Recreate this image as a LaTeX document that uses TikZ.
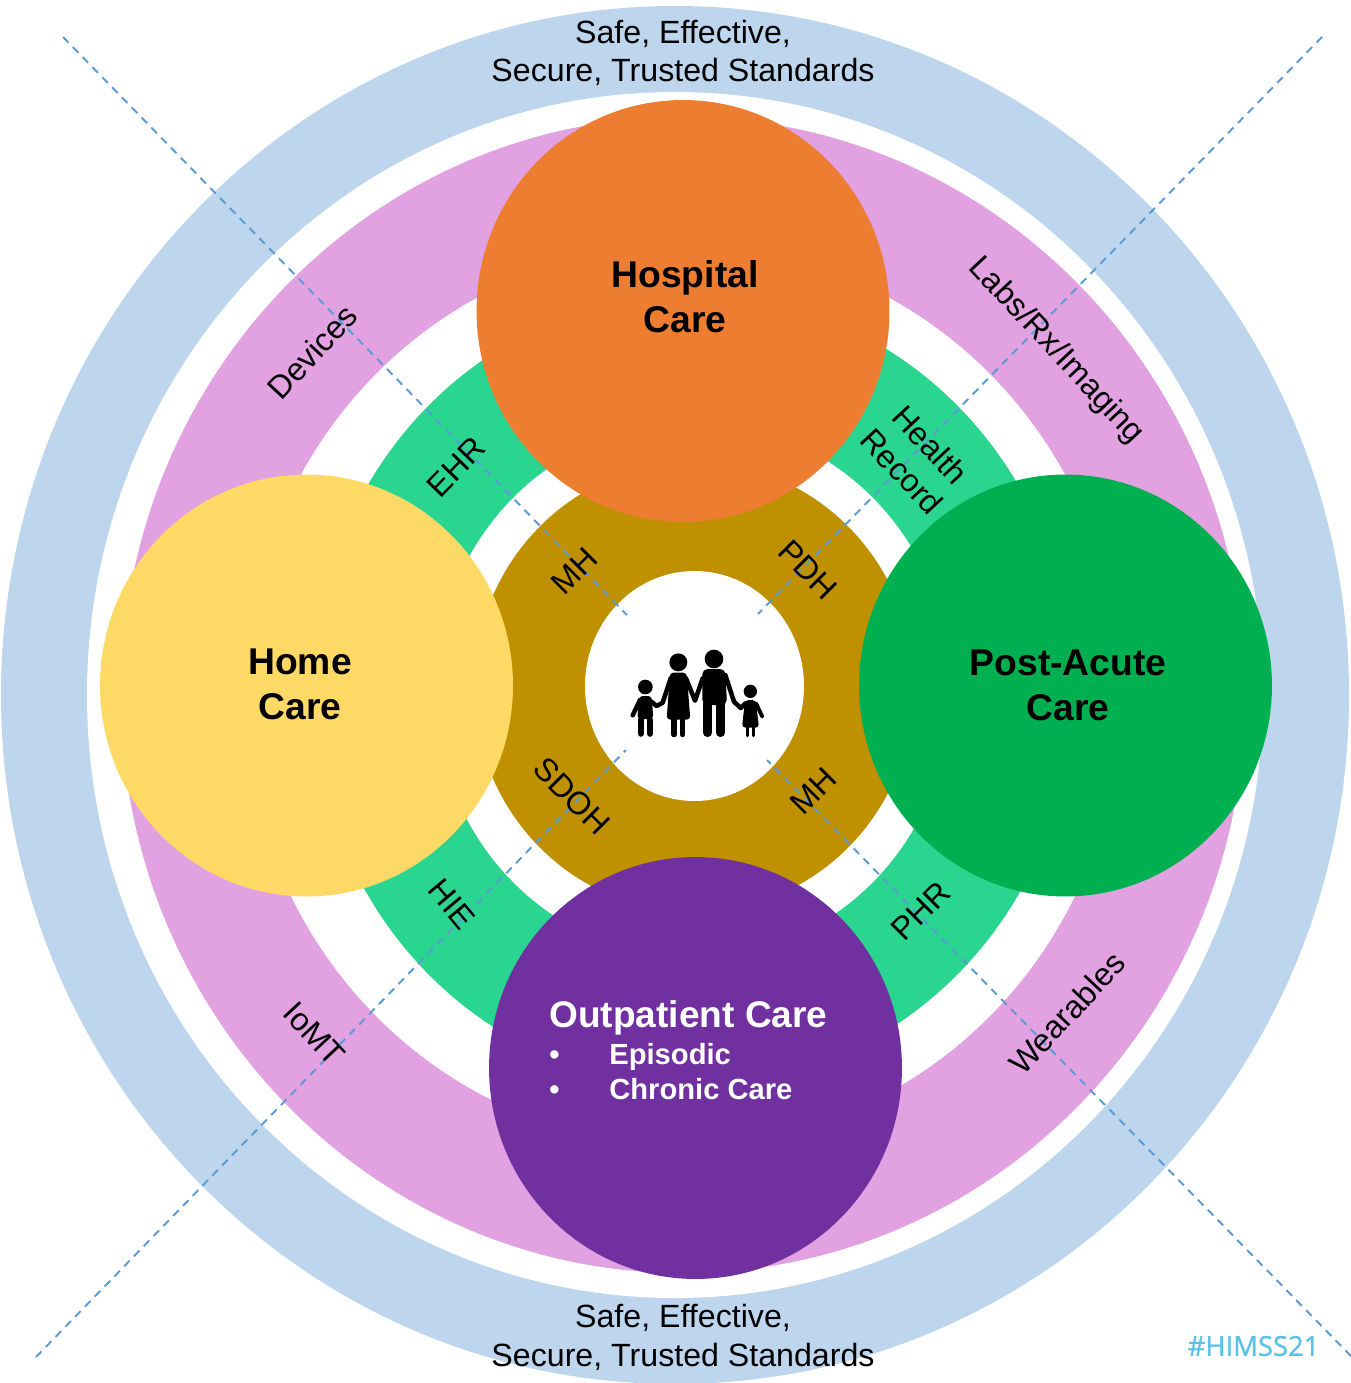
\documentclass[tikz,border=0pt]{standalone}
\usepackage{fontspec}
\setmainfont{Liberation Sans}
\newfontfamily\tagfont[FakeBold=1]{Open Sans}
\usetikzlibrary{shapes.geometric}
\definecolor{ringblue}{HTML}{BDD6EE}
\definecolor{ringpink}{HTML}{E2A1E1}
\definecolor{ringgreen}{HTML}{2AD68F}
\definecolor{ringgold}{HTML}{BF9000}
\definecolor{careorange}{HTML}{ED7D31}
\definecolor{careyellow}{HTML}{FFD966}
\definecolor{caregreen}{HTML}{00B050}
\definecolor{carepurple}{HTML}{7030A0}
\definecolor{dashblue}{HTML}{5B9BD5}
\definecolor{tagblue}{HTML}{5BC2E7}
\tikzset{
  carecircle/.style={shape=ellipse, minimum width=8.26cm, minimum height=8.44cm, inner sep=0pt},
  caretitle/.style={align=center, font=\fontsize{21.2}{25.5}\selectfont\bfseries},
  ringlabel/.style={align=center, font=\fontsize{18.3}{22}\selectfont},
  divider/.style={dashblue, line width=1.1pt, dash pattern=on 4.5pt off 3.5pt},
  famlimb/.style={line width=2.6pt, line cap=round, line join=round}
}
\begin{document}
\begin{tikzpicture}[x=0.02cm, y=-0.02cm]
\useasboundingbox (0,0) rectangle (1351,1383);
\fill [ringblue] (675,695) ellipse (674 and 689);
\fill [white] (675,695) ellipse (588 and 603);
\fill [ringpink] (683,695) ellipse (562 and 578);
\fill [white] (683,695) ellipse (438 and 450);
\fill [ringgreen] (693,690) ellipse (380 and 396);
\fill [white] (693,690) ellipse (258 and 268);
\fill [ringgold] (694,687) ellipse (220 and 225);
\fill [white] (694.5,686) ellipse (109.5 and 115);
\coordinate (tlouter) at (63,37);
\coordinate (tlinner) at (627,615);
\coordinate (trouter) at (1322,37);
\coordinate (trinner) at (758,614);
\coordinate (blouter) at (36,1357);
\coordinate (blinner) at (626,750);
\coordinate (brouter) at (1351,1356);
\coordinate (brinner) at (767,760);
\draw [divider] (tlouter) -- (tlinner);
\draw [divider] (trouter) -- (trinner);
\draw [divider] (blouter) -- (blinner);
\draw [divider] (brouter) -- (brinner);
\node [carecircle, fill=careorange] (hospital) at (683,311) {};
\node [carecircle, fill=careyellow] (home) at (306.5,685.5) {};
\node [carecircle, fill=caregreen] (postacute) at (1065.5,685.5) {};
\node [carecircle, fill=carepurple] (outpatient) at (695.5,1068) {};
\node [caretitle] (hospitaltext) at (685,297) {Hospital\\Care};
\node [caretitle] (hometext) at (300,684) {Home\\Care};
\node [caretitle] (postacutetext) at (1068,685) {Post-Acute\\Care};
\node [white, font=\fontsize{21.1}{25}\selectfont\bfseries] (outpatienttext) at (688.5,1017.5) {Outpatient Care};
\node [white, anchor=west, align=left, inner sep=0pt, font=\fontsize{16.6}{20}\selectfont\bfseries] (outpatientlist) at (549,1071.5) {\makebox[60\dimexpr0.02cm\relax][l]{\textbullet}Episodic\\\makebox[60\dimexpr0.02cm\relax][l]{\textbullet}Chronic Care};
\node [ringlabel] (topstandards) at (683,53) {Safe, Effective,\\Secure, Trusted Standards};
\node [ringlabel] (bottomstandards) at (683,1337.5) {Safe, Effective,\\Secure, Trusted Standards};
\node [ringlabel, rotate=47] (devices) at (312,352) {Devices};
\node [ringlabel, rotate=-47] (labs) at (1056,351) {Labs/Rx/Imaging};
\node [ringlabel, rotate=-47] (iomt) at (314,1034) {IoMT};
\node [ringlabel, rotate=47] (wearables) at (1067,1013) {Wearables};
\node [ringlabel, rotate=46] (ehr) at (456,467) {EHR};
\node [ringlabel, rotate=-47] (healthrecord) at (916,458) {Health\\Record};
\node [ringlabel, rotate=-50] (hie) at (452,904) {HIE};
\node [ringlabel, rotate=45] (phr) at (921,911) {PHR};
\node [ringlabel, rotate=45] (mhupper) at (574,571) {MH};
\node [ringlabel, rotate=-45] (pdh) at (808,570) {PDH};
\node [ringlabel, rotate=-45] (sdoh) at (572,796) {SDOH};
\node [ringlabel, rotate=45] (mhlower) at (813,791) {MH};
\node [tagblue, font=\fontsize{15.6}{18}\selectfont\tagfont, inner sep=0pt] (hashtag) at (1253.5,1346) {\#HIMSS21};
\begin{scope}[shift={(580,570)}, x=0.02cm/3, y=-0.02cm/3]
\fill (196,351) circle (22);
\fill (295,277) circle (27);
\fill (402,267) circle (28);
\fill (511,364) circle (20);
\fill [rounded corners=2pt] (178,378) -- (215,378) -- (220,447) -- (172,447) -- cycle;
\fill [rounded corners=2pt] (270,308) -- (320,308) -- (331,449) -- (260,449) -- cycle;
\fill [rounded corners=3pt] (367,297) -- (436,297) -- (441,405) -- (367,405) -- cycle;
\fill [rounded corners=2pt] (495,390) -- (527,390) -- (537,473) -- (486,473) -- cycle;
\draw [famlimb, line width=3.6pt] (182,450) -- (182,491) (210,450) -- (210,491);
\draw [famlimb, line width=2.9pt] (282,440) -- (282,494) (308,440) -- (308,494);
\draw [famlimb, line width=5pt] (383,400) -- (383,488) (422,400) -- (422,488);
\draw [famlimb, line width=1.9pt] (502,470) -- (502,497) (521,470) -- (521,497);
\draw [famlimb] (180,390) -- (158,436) (214,395) -- (230,408) -- (248,398) -- (272,325);
\draw [famlimb] (318,325) -- (345,392) -- (368,325);
\draw [famlimb] (436,315) -- (462,395) -- (482,414) -- (497,400);
\draw [famlimb, line width=2.2pt] (528,400) -- (547,440);
\end{scope}
\end{tikzpicture}
\end{document}
